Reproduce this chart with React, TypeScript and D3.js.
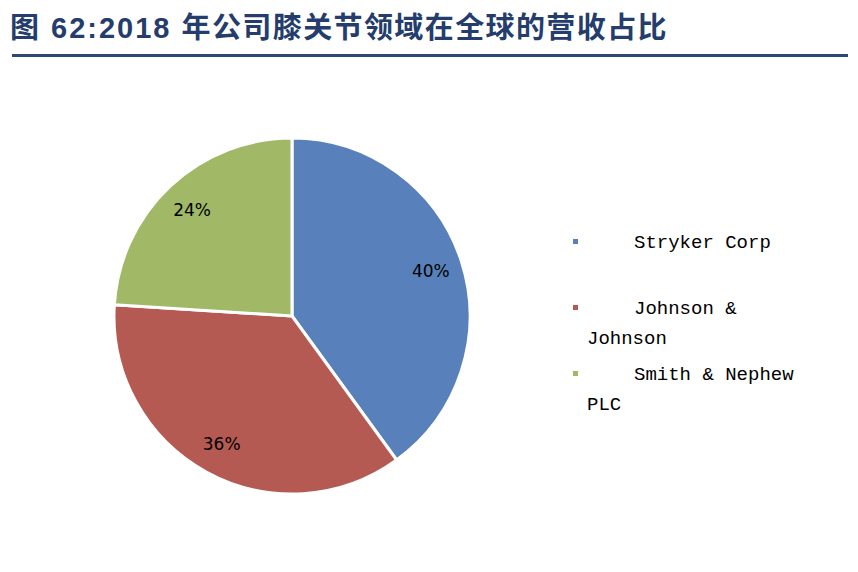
import { useEffect, useRef } from 'react';
import * as d3 from 'd3';

const titleHead = '图 62:2018';
const titleBody = '年公司膝关节领域在全球的营收占比';
const companies = ['Stryker Corp', 'Johnson & Johnson', 'Smith & Nephew PLC'];
const shares = [40, 36, 24];
const colors = ['#5880bb', '#b45a52', '#a1b966'];
// 图例的换行文字
const legendLines = [['Stryker Corp'], ['Johnson &', 'Johnson'], ['Smith & Nephew', 'PLC']];

const App = () => {
  const svgRef = useRef<SVGSVGElement>(null);

  useEffect(() => {
    const svg = d3.select(svgRef.current);
    svg.selectAll('*').remove();

    // 标题
    const titleText = svg
      .append('text')
      .attr('x', 10)
      .attr('y', 38)
      .attr('font-family', "'Liberation Sans', 'Noto Sans CJK SC', sans-serif")
      .attr('font-weight', 'bold')
      .attr('font-size', 29)
      .attr('fill', '#243d6c');
    titleText.append('tspan').attr('letter-spacing', 2).text(titleHead + ' ');
    titleText.append('tspan').attr('letter-spacing', 1.4).text(titleBody);

    svg
      .append('line')
      .attr('x1', 12)
      .attr('x2', 848)
      .attr('y1', 55.5)
      .attr('y2', 55.5)
      .attr('stroke', '#2c4778')
      .attr('stroke-width', 3);

    // 饼图
    const cx = 292;
    const cy = 316;
    const radius = 178;

    const pie = d3
      .pie<number>()
      .sort(null)
      .value((d) => d);
    const arcs = pie(shares);
    const arc = d3.arc<d3.PieArcDatum<number>>().innerRadius(0).outerRadius(radius);
    const labelArc = d3
      .arc<d3.PieArcDatum<number>>()
      .innerRadius(radius * 0.82)
      .outerRadius(radius * 0.82);

    const g = svg.append('g').attr('transform', `translate(${cx},${cy})`);

    g.selectAll('path')
      .data(arcs)
      .enter()
      .append('path')
      .attr('d', (d) => arc(d) as string)
      .attr('fill', (_, i) => colors[i])
      .attr('stroke', '#ffffff')
      .attr('stroke-width', 3)
      .attr('stroke-linejoin', 'round');

    g.selectAll('.label')
      .data(arcs)
      .enter()
      .append('text')
      .attr('class', 'label')
      .attr('transform', (d) => `translate(${labelArc.centroid(d)})`)
      .attr('text-anchor', 'middle')
      .attr('dy', '0.35em')
      .attr('font-family', "'DejaVu Sans', sans-serif")
      .attr('font-size', 17)
      .attr('fill', '#000')
      .text((d) => `${d.data}%`);

    // 图例
    const legend = svg.append('g').attr('transform', 'translate(573, 0)');
    legendLines.forEach((lines, i) => {
      const y = 241 + i * 66;
      legend
        .append('rect')
        .attr('x', 0)
        .attr('y', y - 2)
        .attr('width', 5)
        .attr('height', 5)
        .attr('fill', colors[i]);
      lines.forEach((line, j) => {
        legend
          .append('text')
          .attr('x', j === 0 ? 61 : 14)
          .attr('y', y + 7 + j * 30)
          .attr('font-family', "'Liberation Mono', monospace")
          .attr('font-size', 19)
          .attr('fill', '#000')
          .text(line);
      });
    });
    legend.append('title').text(companies.join(', '));
  }, []);

  return (
    <svg
      ref={svgRef}
      width={858}
      height={572}
      style={{ display: 'block', position: 'absolute', left: 0, top: 0 }}
    />
  );
};

export default App;
